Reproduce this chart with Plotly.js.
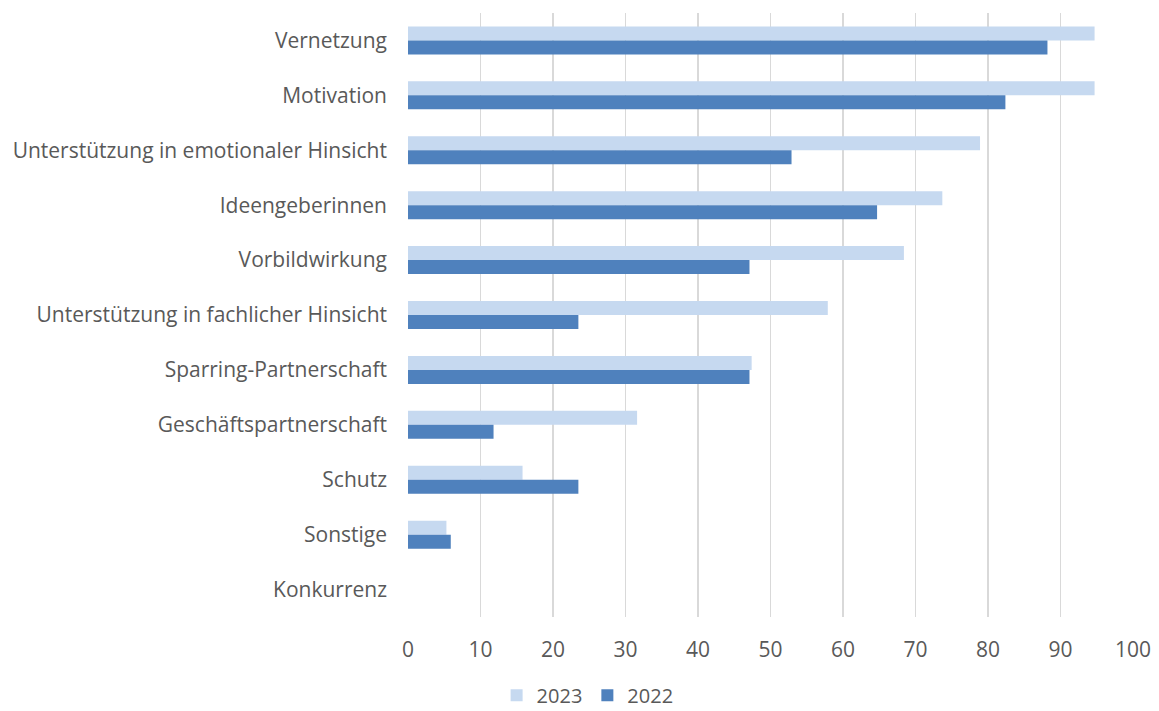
<!DOCTYPE html>
<html>
<head>
<meta charset="utf-8">
<script src="https://cdn.plot.ly/plotly-3.0.1.min.js"></script>
<style>html,body{margin:0;padding:0;background:#fff;}#chart{width:1159px;height:711px;}</style>
</head>
<body>
<div id="chart"></div>
<script>
const categories = [
  "Vernetzung",
  "Motivation",
  "Unterstützung in emotionaler Hinsicht",
  "Ideengeberinnen",
  "Vorbildwirkung",
  "Unterstützung in fachlicher Hinsicht",
  "Sparring-Partnerschaft",
  "Geschäftspartnerschaft",
  "Schutz",
  "Sonstige",
  "Konkurrenz"
];
const values2023 = [94.7, 94.7, 78.9, 73.7, 68.4, 57.9, 47.4, 31.6, 15.8, 5.3, 0];
const values2022 = [88.2, 82.4, 52.9, 64.7, 47.1, 23.5, 47.1, 11.8, 23.5, 5.9, 0];
const seriesNames = ["2023", "2022"];
const xTicks = [0, 10, 20, 30, 40, 50, 60, 70, 80, 90, 100];

const font = {family: "Open Sans, sans-serif", size: 21, color: "#595959"};
const legendFont = {family: "Open Sans, sans-serif", size: 20, color: "#595959"};

const data = [
  {type: "bar", orientation: "h", name: seriesNames[0], y: categories, x: values2023,
   marker: {color: "#C6D9F0", line: {width: 0}}, hoverinfo: "x+y"},
  {type: "bar", orientation: "h", name: seriesNames[1], y: categories, x: values2022,
   marker: {color: "#4F81BD", line: {width: 0}}, hoverinfo: "x+y"}
];

const layout = {
  width: 1159, height: 711,
  margin: {l: 408, r: 26, t: 13, b: 94},
  paper_bgcolor: "#fff", plot_bgcolor: "#fff",
  font: font,
  barmode: "group",
  bargap: 0.49,
  bargroupgap: 0,
  showlegend: true,
  legend: {orientation: "h", xref: "container", yref: "container",
           x: 0.507, xanchor: "center", y: 0.022, yanchor: "middle",
           font: legendFont, itemwidth: 30, traceorder: "normal", tracegroupgap: 0},
  xaxis: {range: [0, 100], tickvals: xTicks, ticktext: xTicks.map(String),
          showgrid: true, gridcolor: "#D9D9D9", gridwidth: 1.5,
          zeroline: false, showline: false, ticks: "", ticklabelstandoff: 18,
          tickfont: font, fixedrange: true, automargin: false},
  yaxis: {type: "category", autorange: "reversed", showgrid: false, zeroline: false,
          showline: false, ticks: "", ticklabelstandoff: 20, tickfont: font,
          fixedrange: true, automargin: false}
};

Plotly.newPlot("chart", data, layout, {displayModeBar: false, staticPlot: true});
</script>
</body>
</html>
